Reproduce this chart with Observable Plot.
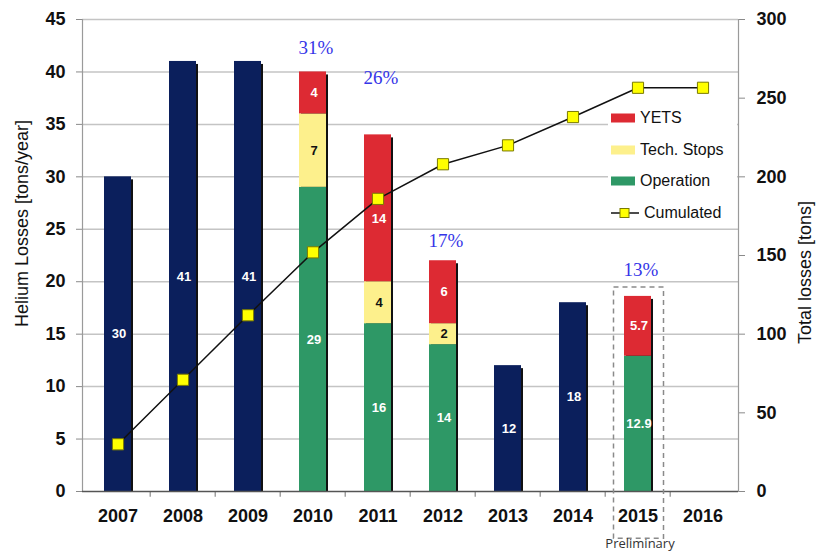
<!DOCTYPE html>
<html>
<head>
<meta charset="utf-8">
<script src="https://cdn.jsdelivr.net/npm/d3@7"></script>
<script src="https://cdn.jsdelivr.net/npm/@observablehq/plot@0.6"></script>
<style>
  html, body { margin: 0; padding: 0; background: #fff; }
  #wrap { position: relative; width: 818px; height: 551px; font-family: Arial, "Liberation Sans", sans-serif; }
  #legend { position: absolute; left: 608px; top: 103px; width: 129px; height: 124px; background: #fff; }
  .lg-row { position: absolute; left: 2px; height: 20px; display: flex; align-items: center; font-size: 16px; color: #111; white-space: nowrap; }
  .lg-row svg { margin-right: 4px; }
</style>
</head>
<body>
<div id="wrap"></div>
<script>
// ---- data ----
const years = ["2007","2008","2009","2010","2011","2012","2013","2014","2015","2016"];
const totals     = [30, 41, 41, null, null, null, 12, 18, null, null];
const operation  = [null, null, null, 29, 16, 14, null, null, 12.9, null];
const techStops  = [null, null, null, 7, 4, 2, null, null, 0, null];
const yets       = [null, null, null, 4, 14, 6, null, null, 5.7, null];
const cumulated  = [30, 71, 112, 152, 186, 208, 220, 238, 256.6, 256.6];
const pctYears   = ["2010", "2011", "2012", "2015"];
const pctLabels  = ["31%", "26%", "17%", "13%"];
const pctLabelY  = [42.3, 39.4, 23.9, 21.1];
const leftTicks  = [0, 5, 10, 15, 20, 25, 30, 35, 40, 45];
const rightTicks = [0, 50, 100, 150, 200, 250, 300];
const seriesNames  = ["Total", "Operation", "Tech. Stops", "YETS"];
const seriesColors = ["#0b1f5c", "#2e9866", "#fdf08c", "#dd2a33"];
const legendLabels = ["YETS", "Tech. Stops", "Operation", "Cumulated"];
const leftMax = 45, rightMax = 300;

// ---- derived tables ----
const fmt = v => String(v);
const rows = [];
years.forEach((year, i) => {
  if (totals[i] != null) {
    rows.push({year, series: "Total", y1: 0, y2: totals[i], label: fmt(totals[i])});
  } else if (operation[i] != null) {
    let base = 0;
    [["Operation", operation[i]], ["Tech. Stops", techStops[i]], ["YETS", yets[i]]].forEach(([s, v]) => {
      if (v) { rows.push({year, series: s, y1: base, y2: base + v, label: fmt(v)}); base += v; }
    });
  }
});
// label nudged down where the cumulated marker sits on the segment midpoint
const labelY = d => (d.y1 + d.y2) / 2 - (d.year === "2011" && d.series === "YETS" ? 1 : 0);
const shadowRows = years.map((year, i) => ({
  year,
  total: totals[i] != null ? totals[i] : (operation[i] || 0) + (techStops[i] || 0) + (yets[i] || 0)
})).filter(d => d.total > 0);
const cumRows = years.map((year, i) => ({year, cum: cumulated[i]}));
const pctRows = pctYears.map((year, i) => ({year, text: pctLabels[i], y: pctLabelY[i]}));
const toLeft = v => v * leftMax / rightMax;

const W = 818, H = 551, mL = 82, mR = 80, mT = 19, mB = 60;
const band = (W - mL - mR) / years.length;
const pad = 0.59;

const chart = Plot.plot({
  width: W, height: H,
  marginLeft: mL, marginRight: mR, marginTop: mT, marginBottom: mB,
  style: {fontFamily: "Arial, 'Liberation Sans', sans-serif", overflow: "visible", background: "#fff"},
  x: {domain: years, paddingInner: pad, paddingOuter: pad / 2},
  y: {domain: [0, leftMax]},
  color: {domain: seriesNames, range: seriesColors},
  marks: [
    Plot.ruleY(leftTicks.filter(d => d > 0), {stroke: "#c4c4c4", strokeWidth: 1.5}),
    Plot.frame({anchor: "left", stroke: "#9a9a9a", strokeWidth: 1.2}),
    Plot.frame({anchor: "right", stroke: "#9a9a9a", strokeWidth: 1.2}),
    Plot.axisY({anchor: "left", ticks: leftTicks, label: null, tickSize: 6, tickPadding: 11, fontSize: 18, fontWeight: "bold", stroke: "#8a8a8a", fill: "#111"}),
    Plot.axisY({anchor: "right", ticks: rightTicks.map(toLeft), label: null, tickFormat: d => Math.round(d * rightMax / leftMax), tickSize: 6, tickPadding: 12, fontSize: 18, fontWeight: "bold", stroke: "#8a8a8a", fill: "#111"}),
    Plot.axisX({label: null, tickSize: 0, tickPadding: 18, fontSize: 18, fontWeight: "bold", fill: "#111"}),
    Plot.ruleX(years.slice(1), {x: d => d, dx: -band / 2, y1: 0, y2: -0.55, stroke: "#8a8a8a", strokeWidth: 1.2}),
    Plot.barY(shadowRows, {x: "year", y1: 0, y2: "total", fill: "#111", dx: 2, dy: 3, insetBottom: 3}),
    Plot.barY(rows, {x: "year", y1: "y1", y2: "y2", fill: "series"}),
    Plot.ruleY([0], {stroke: "#555", strokeWidth: 1.5}),
    Plot.line(cumRows, {x: "year", y: d => toLeft(d.cum), stroke: "#111", strokeWidth: 1.5}),
    Plot.text(rows, {filter: d => d.series !== "Tech. Stops", x: "year", y: labelY, text: "label", fill: "white", fontWeight: "bold", fontSize: 13, dx: 1}),
    Plot.text(rows, {filter: d => d.series === "Tech. Stops", x: "year", y: labelY, text: "label", fill: "#111", fontWeight: "bold", fontSize: 13, dx: 1}),
    Plot.dot(cumRows, {x: "year", y: d => toLeft(d.cum), symbol: "square", r: 6.3, fill: "#ffff00", stroke: "#7a7a00", strokeWidth: 1}),
    Plot.text(pctRows, {x: "year", y: "y", text: "text", fill: "#3535e8", fontFamily: "'Liberation Serif', 'Times New Roman', serif", fontSize: 19, dx: 3}),
    Plot.barY([{year: "2015"}], {x: "year", y1: -4.5, y2: 19.45, fill: "none", stroke: "#8a8a8a", strokeWidth: 1.5, strokeDasharray: "5,4", insetLeft: -10.5, insetRight: -12.5}),
    Plot.text([{year: "2015", text: "Preliminary"}], {x: "year", y: -5.0, text: "text", fontFamily: "'Open Sans', sans-serif", fontSize: 13, fill: "#333", dx: 2}),
    Plot.text(["Helium Losses [tons/year]"], {frameAnchor: "left", textAnchor: "middle", dx: -60, dy: -32, rotate: -90, fontSize: 18, fill: "#111"}),
    Plot.text(["Total losses [tons]"], {frameAnchor: "right", textAnchor: "middle", dx: 67, dy: 17, rotate: -90, fontSize: 18, fill: "#111"})
  ]
});

const wrap = document.getElementById("wrap");
wrap.appendChild(chart);

// ---- legend ----
const legend = document.createElement("div");
legend.id = "legend";
const swatchFor = {"YETS": seriesColors[3], "Tech. Stops": seriesColors[2], "Operation": seriesColors[1]};
legendLabels.forEach((lab, i) => {
  const row = document.createElement("div");
  row.className = "lg-row";
  row.style.top = (5 + i * 31.5) + "px";
  let sw;
  if (swatchFor[lab]) {
    sw = `<svg width="26" height="12"><rect x="1" y="1.5" width="24" height="9" fill="${swatchFor[lab]}"/></svg>`;
  } else {
    sw = `<svg width="30" height="14"><line x1="1" x2="29" y1="7" y2="7" stroke="#111" stroke-width="1.5"/><rect x="10" y="2.5" width="9" height="9" fill="#ffff00" stroke="#7a7a00" stroke-width="1"/></svg>`;
  }
  row.innerHTML = sw + `<span>${lab}</span>`;
  legend.appendChild(row);
});
wrap.appendChild(legend);
</script>
</body>
</html>
